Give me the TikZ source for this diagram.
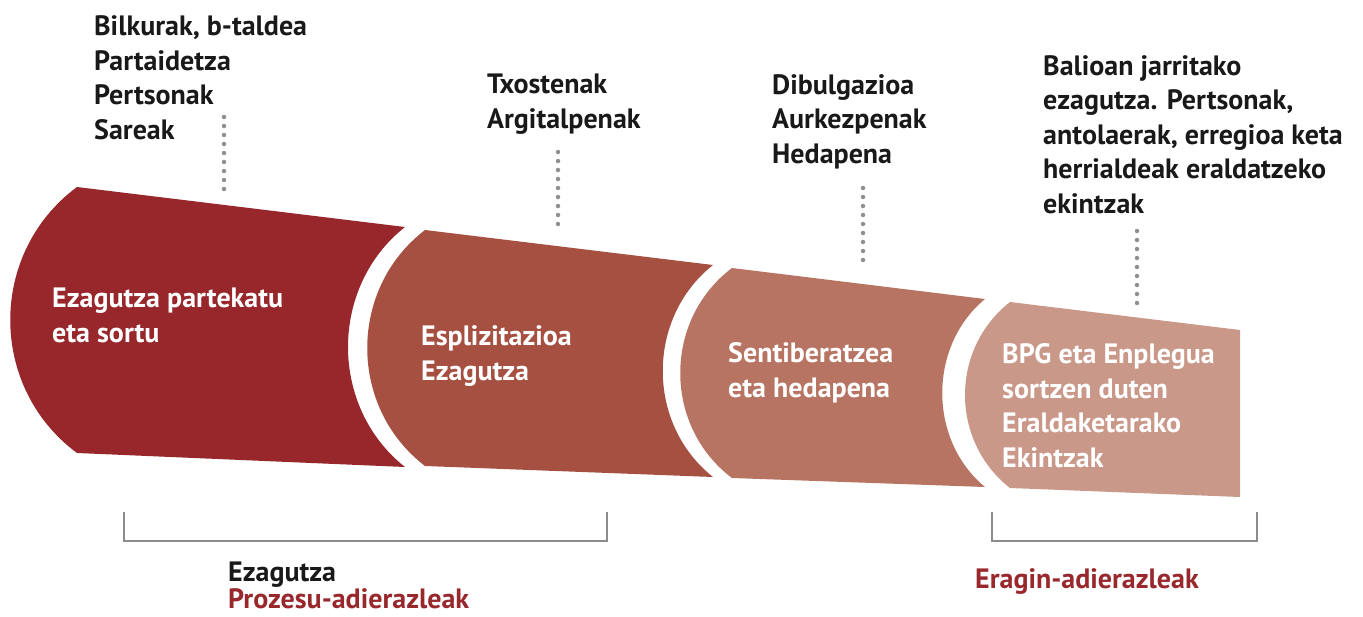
\documentclass[tikz,border=0pt]{standalone}
\usepackage{fontspec}
\setmainfont{PT Sans}
\definecolor{segone}{HTML}{97272B}
\definecolor{segtwo}{HTML}{A65042}
\definecolor{segthree}{HTML}{B87462}
\definecolor{segfour}{HTML}{CA9889}
\definecolor{redtxt}{HTML}{98282C}
\definecolor{dotgray}{HTML}{8E8E93}
\definecolor{brgray}{HTML}{8C8C8C}
\begin{document}
\begin{tikzpicture}[x=1pt,y=-1pt]
\tikzstyle{lbl}=[anchor=base west,inner sep=0pt,align=left,text=black!90,font=\bfseries\fontsize{28}{34.5}\selectfont];
\tikzstyle{inlbl}=[lbl,text=white];
\tikzstyle{dots}=[dotgray,line width=4.5pt,line cap=round,dash pattern=on 0pt off 9pt];
\tikzstyle{bracket}=[brgray,line width=2.5pt];
\useasboundingbox (0,0) rectangle (1363,616);
% funnel parts
\fill[segone] (77,187) .. controls (-12,253) and (-12,387) .. (77,453)
  -- (405,467) .. controls (329,407) and (329,287) .. (405,227) -- cycle;
\fill[segtwo] (425,230) .. controls (348,289) and (348,407) .. (425,466)
  -- (713,477) .. controls (646,424) and (646,318) .. (713,265) -- cycle;
\fill[segthree] (732,268) .. controls (663,320) and (663,426) .. (732,478)
  -- (985,487) .. controls (928,440) and (928,346) .. (985,299) -- cycle;
\fill[segfour] (1010,302) .. controls (950,349) and (950,441) .. (1010,488)
  -- (1240,497) -- (1240,330) -- cycle;
% texts inside (placed by last baseline)
\node[inlbl] (p1) at (52,342) {Ezagutza partekatu\\eta sortu};
\node[inlbl] (p2) at (421,380) {Esplizitazioa\\Ezagutza};
\node[inlbl] (p3) at (728,397) {Sentiberatzea\\eta hedapena};
\node[inlbl] (p4) at (1002,467) {BPG eta Enplegua\\sortzen duten\\Eraldaketarako\\Ekintzak};
% texts above
\node[lbl] (o1) at (94,139) {Bilkurak, b-taldea\\Partaidetza\\Pertsonak\\Sareak};
\node[lbl] (o2) at (487,128) {Txostenak\\Argitalpenak};
\node[lbl] (o3) at (772,163) {Dibulgazioa\\Aurkezpenak\\Hedapena};
\node[lbl] (o4) at (1043,213) {Balioan jarritako\\ezagutza. Pertsonak,\\antolaerak, erregioa keta\\herrialdeak eraldatzeko\\ekintzak};
% dotted leaders
\coordinate (d1a) at (224,117); \coordinate (d1b) at (224,194);
\coordinate (d2a) at (558,152); \coordinate (d2b) at (558,229);
\coordinate (d3a) at (863,188); \coordinate (d3b) at (863,267);
\coordinate (d4a) at (1137,231); \coordinate (d4b) at (1137,308);
\draw[dots] (d1a) -- (d1b);
\draw[dots] (d2a) -- (d2b);
\draw[dots] (d3a) -- (d3b);
\draw[dots] (d4a) -- (d4b);
% brackets
\coordinate (b1l) at (124,512); \coordinate (b1r) at (607,512);
\coordinate (b2l) at (992,512); \coordinate (b2r) at (1257,512);
\draw[bracket] (b1l) -- ++(0,29) -| (b1r);
\draw[bracket] (b2l) -- ++(0,29) -| (b2r);
% legend texts
\node[lbl] (k1) at (228,581) {Ezagutza};
\node[lbl,text=redtxt] (k2) at (228,608) {Prozesu-adierazleak};
\node[lbl,text=redtxt] (k3) at (975,588) {Eragin-adierazleak};
\end{tikzpicture}
\end{document}
